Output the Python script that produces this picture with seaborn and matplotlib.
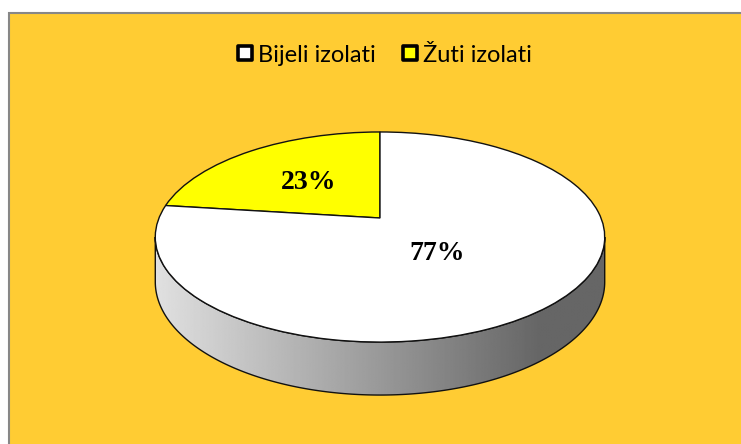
import numpy as np
import matplotlib
matplotlib.use("Agg")
import matplotlib.pyplot as plt
import seaborn as sns
from matplotlib import transforms as mtransforms
from matplotlib.patches import Polygon, Rectangle
from matplotlib.lines import Line2D
from matplotlib.markers import MarkerStyle

# ---- data ----
categories = ["Žuti izolati", "Bijeli izolati"]
values = [23, 77]
slice_colors = ["#FFFF00", "#FFFFFF"]
legend_order = ["Bijeli izolati", "Žuti izolati"]

sns.set_theme(style="white")
plt.rcParams["font.family"] = ["Lato", "DejaVu Sans"]

W, H = 741, 444
fig = plt.figure(figsize=(W / 100, H / 100), dpi=100, facecolor="white")

# chart area background with grey frame (extends beyond right/bottom)
fig.patches.append(Rectangle((9 / W, -0.05), 1.0, (1 - 13 / H) + 0.05,
                             transform=fig.transFigure, facecolor="#FFCC33",
                             edgecolor="#878787", lw=1.5, zorder=-5))

ax = fig.add_axes([0, 0, 1, 1])
ax.patch.set_alpha(0)


class Persp(mtransforms.Transform):
    """Simple perspective projection of the pie plane (3-D look)."""
    input_dims = 2
    output_dims = 2

    def __init__(self, cx, cy, sx, sy, k, h=0.0):
        super().__init__()
        self.cx, self.cy, self.sx, self.sy, self.k, self.h = cx, cy, sx, sy, k, h

    def transform_non_affine(self, values):
        v = np.asarray(values, dtype=float).reshape(-1, 2)
        x, z = v[:, 0], v[:, 1]
        w = 1 + self.k * z
        return np.column_stack([self.cx + self.sx * x / w,
                                self.cy - (self.sy * z - self.h) / w])


K = 0.181
top = Persp(380, 218, 221, 101.6, K)
bottom = Persp(380, 218, 221, 101.6, K, h=43.4)

wedges, texts, autotexts = ax.pie(
    values, colors=slice_colors, startangle=90, counterclock=True,
    autopct="%1.0f%%", pctdistance=0.5,
    wedgeprops=dict(edgecolor="#111111", linewidth=1.0),
    textprops=dict(family=["Liberation Serif"], fontweight="bold",
                   fontsize=20, color="black"))

for wdg in wedges:
    wdg.set_transform(top + ax.transData)
    wdg.set_zorder(3)
for t in list(texts) + list(autotexts):
    t.set_transform(top + ax.transData)
    t.set_zorder(4)
px, py = autotexts[1].get_position()
autotexts[1].set_position((px * 0.73, py * 0.885))
px, py = autotexts[0].get_position()
autotexts[0].set_position((px * 1.04, py * 1.0))

ax.set_aspect("auto")
ax.axis("off")

# side band of the 3-D pie
t = np.linspace(np.pi + np.arcsin(K), 2 * np.pi - np.arcsin(K), 300)
ring = np.column_stack([np.cos(t), np.sin(t)])
upper = top.transform(ring)
lower = bottom.transform(ring)
poly_xy = np.vstack([upper, lower[::-1]])
band = Polygon(poly_xy, closed=True, facecolor="none", edgecolor="#111111",
               lw=1.0, zorder=2, transform=ax.transData)
ax.add_patch(band)

xs = np.linspace(150, 610, 400)
grey = np.interp(xs, [155, 540, 610], [0.88, 0.40, 0.40])
grad = np.tile(grey, (10, 1))
img = ax.imshow(grad, cmap="gray", vmin=0, vmax=1, extent=[150, 610, 410, 220],
                aspect="auto", zorder=1.5, interpolation="bilinear")
img.set_clip_path(band)
ax.set_xlim(0, W)
ax.set_ylim(H, 0)

# legend
color_of = dict(zip(categories, slice_colors))
handles = [Line2D([], [], ls="none", marker=MarkerStyle("s", joinstyle="round"),
                  markersize=10, markerfacecolor=color_of[c],
                  markeredgecolor="black", markeredgewidth=2.6)
           for c in legend_order]
fig.legend(handles, legend_order, loc="center", bbox_to_anchor=(0.519, 0.876),
           ncol=2, frameon=False, fontsize=17, handlelength=0.7,
           handletextpad=0.2, columnspacing=1.1, labelcolor="black")

fig.savefig("out.png", dpi=100, facecolor="white")
